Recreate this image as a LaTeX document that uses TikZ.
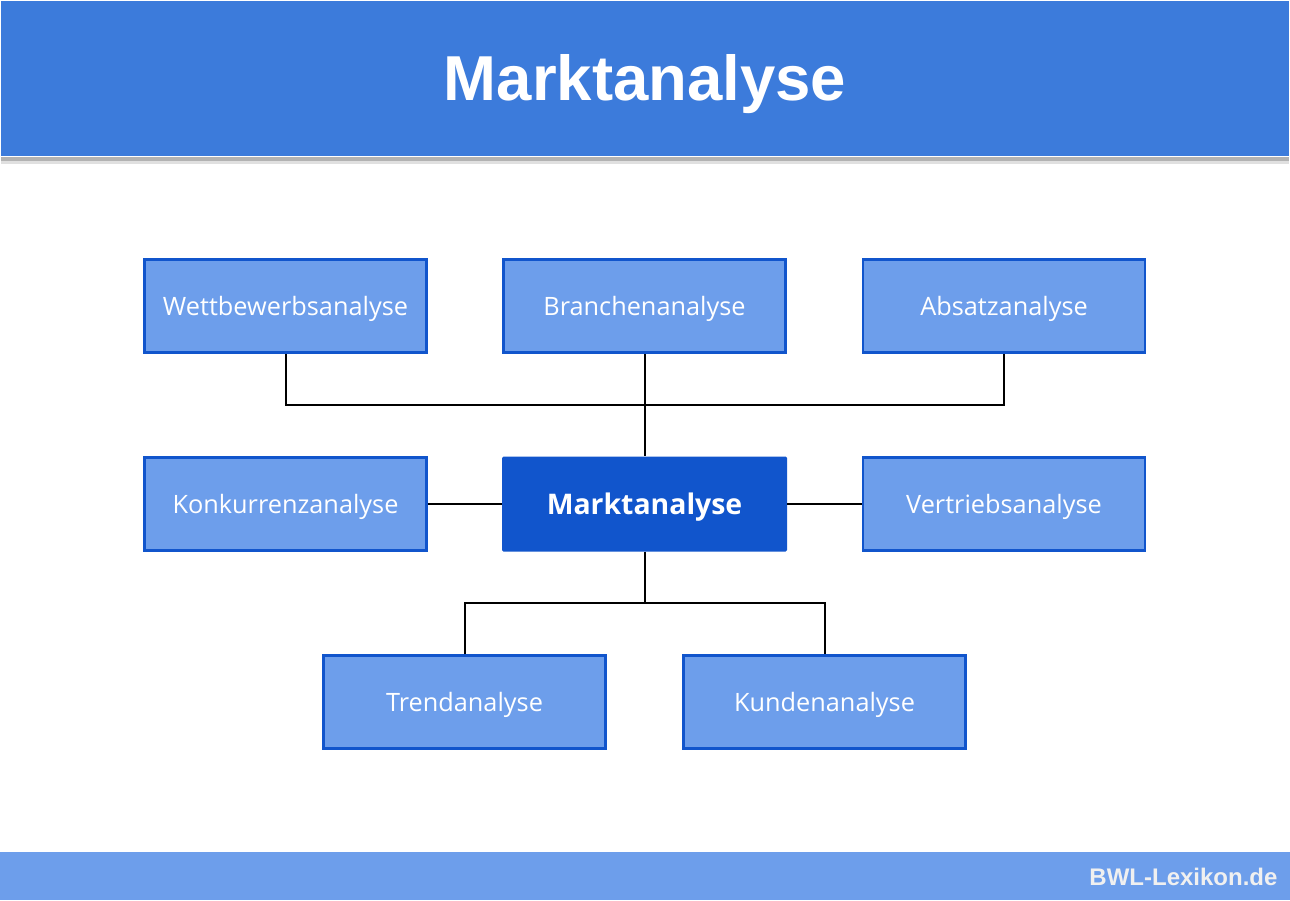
\documentclass[tikz,border=0pt]{standalone}
\usepackage{fontspec}
\setmainfont{Open Sans}
\newfontfamily\headfont{Liberation Sans}
\definecolor{headblue}{HTML}{3C7BDB}
\definecolor{boxfill}{HTML}{6D9EEB}
\definecolor{boxline}{HTML}{1155CC}
\definecolor{footblue}{HTML}{6D9EEB}
\begin{document}
\begin{tikzpicture}[x=1pt,y=-1pt,
  abox/.style={draw=boxline, line width=2.5pt, fill=boxfill, minimum width=282pt, minimum height=93pt, inner sep=0pt, text=white, text height=19pt, text depth=0pt, font=\fontsize{25.3}{30}\selectfont},
  mbox/.style={fill=boxline, rounded corners=1.5pt, minimum width=285pt, minimum height=95pt, inner sep=0pt, text=white, text height=21pt, text depth=0pt, font=\fontsize{28.4}{33}\selectfont\bfseries},
  conn/.style={draw=black, line width=2pt}]
\useasboundingbox (0,0) rectangle (1290,900);
\fill[white] (0,0) rectangle (1290,900);
% header
\fill[black!30] (1,157) rectangle (1289,161);
\fill[black!12] (1,161) rectangle (1289,164);
\fill[headblue] (1,1) rectangle (1289,156);
\node[text=white, font=\headfont\fontsize{63.5}{72}\selectfont\bfseries] (title) at (645,84) {Marktanalyse};
% footer
\fill[footblue] (0,852) rectangle (1290,900);
\node[anchor=east, text=white!94!black, font=\headfont\fontsize{24}{28}\selectfont\bfseries] (foot) at (1281,877) {BWL-Lexikon.de};
% boxes
\node[abox] (wett) at (285.5,306) {Wettbewerbsanalyse};
\node[abox] (bran) at (644.5,306) {Branchenanalyse};
\node[abox] (absa) at (1004,306) {Absatzanalyse};
\node[abox] (konk) at (285.5,504) {Konkurrenzanalyse};
\node[mbox] (mark) at (644.5,504) {Marktanalyse};
\node[abox] (vert) at (1004,504) {Vertriebsanalyse};
\node[abox] (tren) at (464.5,702) {Trendanalyse};
\node[abox] (kund) at (824.5,702) {Kundenanalyse};
\coordinate (jt) at (644.5,405);
\coordinate (jb) at (644.5,603);
% connectors
\draw[conn] (wett.south) |- (jt) -| (absa.south);
\draw[conn] (bran.south) -- (mark.north);
\draw[conn] (konk.east) -- (mark.west);
\draw[conn] (mark.east) -- (vert.west);
\draw[conn] (mark.south) -- (jb);
\draw[conn] (tren.north) |- (jb) -| (kund.north);
\end{tikzpicture}
\end{document}
